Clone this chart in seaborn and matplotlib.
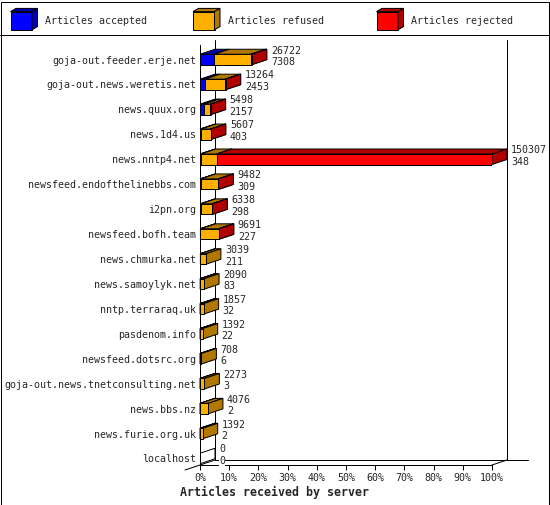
import numpy as np
import pandas as pd
import matplotlib
matplotlib.use("Agg")
import matplotlib.pyplot as plt
import seaborn as sns
from matplotlib.patches import Polygon, Rectangle
from matplotlib.lines import Line2D

# data (top number = offered, bottom number = accepted)
servers = ["goja-out.feeder.erje.net", "goja-out.news.weretis.net", "news.quux.org",
           "news.1d4.us", "news.nntp4.net", "newsfeed.endofthelinebbs.com", "i2pn.org",
           "newsfeed.bofh.team", "news.chmurka.net", "news.samoylyk.net", "nntp.terraraq.uk",
           "pasdenom.info", "newsfeed.dotsrc.org", "goja-out.news.tnetconsulting.net",
           "news.bbs.nz", "news.furie.org.uk", "localhost"]
offered = [26722, 13264, 5498, 5607, 150307, 9482, 6338, 9691, 3039, 2090, 1857,
           1392, 708, 2273, 4076, 1392, 0]
accepted = [7308, 2453, 2157, 403, 348, 309, 298, 227, 211, 83, 32, 22, 6, 3, 2, 2, 0]
refused = [18900, 10511, 3191, 5004, 8240, 9073, 5960, 9364, 2828, 2007, 1825,
           1370, 702, 2270, 4074, 1390, 0]
rejected = [514, 300, 150, 200, 141719, 100, 80, 100, 0, 0, 0, 0, 0, 0, 0, 0, 0]

series = ["Articles accepted", "Articles refused", "Articles rejected"]
front_colors = ["#0000ff", "#ffaf00", "#ff0000"]
dark_colors = ["#0000b0", "#b07800", "#b00000"]
tick_labels = ["0%", "10%", "20%", "30%", "40%", "50%", "60%", "70%", "80%", "90%", "100%"]

W, H = 550, 505
LW = 0.72  # one pixel

sns.set_style("white")
plt.rcParams["font.family"] = ["DejaVu Sans Mono", "Liberation Mono"]
plt.rcParams["font.size"] = 7.2

fig = plt.figure(figsize=(W / 100, H / 100), dpi=100)
# axes = front plane of the 3d box, in pixels 200..492 x 45..465
ax = fig.add_axes([200 / W, 1 - 465 / H, 292 / W, 420 / H])

df = pd.DataFrame({"server": servers, "accepted": accepted,
                   "refused": refused, "rejected": rejected})
stack = df[["accepted", "refused", "rejected"]].to_numpy().cumsum(axis=1)
df["end0"], df["end1"], df["end2"] = stack[:, 0], stack[:, 1], stack[:, 2]

xmax = max(offered)
row_px = (458.5 - 59.5) / (len(servers) - 1)
px_x = xmax / 292
px_y = 1 / row_px
dx, dy = 15 * px_x, 5 * px_y
bar_h = 10.5 * px_y

# front faces, drawn as overlapping stacked bars
for k in [2, 1, 0]:
    sns.barplot(data=df, x="end%d" % k, y="server", orient="h", color=front_colors[k],
                saturation=1, width=bar_h, edgecolor="black", linewidth=LW, ax=ax)
for c, z in zip(ax.containers, [2.0, 2.1, 2.2]):
    for p in c.patches:
        p.set_zorder(z)

ytop = -(59.5 - 45) * px_y
ybot = len(servers) - 1 + (465 - 458.5) * px_y
ax.set_xlim(0, xmax)
ax.set_ylim(ybot, ytop)

# top and side faces
for i, row in df.iterrows():
    yt, yb = i - bar_h / 2, i + bar_h / 2
    starts = [0, row["end0"], row["end1"]]
    ends = [row["end0"], row["end1"], row["end2"]]
    if ends[2] == 0:
        ax.add_patch(Polygon([(0, yt), (dx, yt - dy), (dx, yb - dy), (0, yb)],
                             closed=False, fill=False, ec="black", lw=LW,
                             clip_on=False, zorder=1))
    for k in range(3):
        if ends[k] - starts[k] <= 0:
            continue
        x0, x1 = starts[k], ends[k]
        ax.add_patch(Polygon([(x0, yt), (x1, yt), (x1 + dx, yt - dy), (x0 + dx, yt - dy)],
                             fc=dark_colors[k], ec="black", lw=LW, clip_on=False,
                             zorder=1.0 + 0.1 * k))
        ax.add_patch(Polygon([(x1, yt), (x1, yb), (x1 + dx, yb - dy), (x1 + dx, yt - dy)],
                             fc=dark_colors[k], ec="black", lw=LW, clip_on=False,
                             zorder=1.05 + 0.1 * k))
    xl = ends[2] + dx + 4 * px_x
    for yy, val in [(i - 9 * px_y, offered[i]), (i + 2.5 * px_y, accepted[i])]:
        ax.text(xl, yy, str(val), ha="left", va="center", fontsize=7.2, zorder=3,
                bbox=dict(fc="white", ec="none", pad=0.3))

# back walls and floor
frame = [([dx, dx], [ytop - dy, ybot - dy]),
         ([xmax + dx, xmax + dx], [ytop - dy, ybot - dy]),
         ([dx, xmax + dx + 21 * px_x], [ybot - dy, ybot - dy]),
         ([-dx, dx], [ybot + dy, ybot - dy]),
         ([xmax, xmax + dx], [ybot, ybot - dy])]
for xs, ys in frame:
    ax.plot(xs, ys, color="black", lw=LW, clip_on=False, zorder=0.5)

for s in ["top", "right"]:
    ax.spines[s].set_visible(False)
for s in ["left", "bottom"]:
    ax.spines[s].set_color("black")
    ax.spines[s].set_linewidth(LW)

ax.set_xticks(np.linspace(0, xmax, len(tick_labels)))
ax.set_xticklabels(tick_labels)
ax.tick_params(axis="x", direction="out", length=3.6, width=LW, color="black",
               labelsize=7.2, pad=2.5, bottom=True)
ax.tick_params(axis="y", length=0, pad=2.9, labelsize=7.2, left=False)
ax.set_xlabel("")
ax.set_ylabel("")

fig.text(180 / W, 1 - 492 / H, "Articles received by server", fontsize=8.4,
         fontweight="bold", ha="left", va="center")

# legend strip
fig.add_artist(Line2D([0, 1], [1 - 34.5 / H, 1 - 34.5 / H], transform=fig.transFigure,
                      color="black", lw=LW))
cube_x = [10.5, 193, 376.5]
text_x = [44.6, 228, 411]
cw, ch, cdx, cdy, cy = 21.5, 18.2, 5.5, 3.2, 11.6


def to_fig(pts):
    return [(x / W, 1 - y / H) for x, y in pts]


for k in range(3):
    x0, x1 = cube_x[k], cube_x[k] + cw
    y0, y1 = cy, cy + ch
    for pts, col in [([(x0, y0), (x1, y0), (x1, y1), (x0, y1)], front_colors[k]),
                     ([(x0, y0), (x1, y0), (x1 + cdx, y0 - cdy), (x0 + cdx, y0 - cdy)], dark_colors[k]),
                     ([(x1, y0), (x1, y1), (x1 + cdx, y1 - cdy), (x1 + cdx, y0 - cdy)], dark_colors[k])]:
        fig.add_artist(Polygon(to_fig(pts), transform=fig.transFigure, fc=col, ec="black", lw=LW))
    fig.text(text_x[k] / W, 1 - 21 / H, series[k], fontsize=7.2, ha="left", va="center")

fig.add_artist(Rectangle((0.5 / W, 0.5 / H), 548 / W, 503 / H, transform=fig.transFigure,
                         fill=False, ec="black", lw=LW))

fig.savefig("out.png", dpi=100)
